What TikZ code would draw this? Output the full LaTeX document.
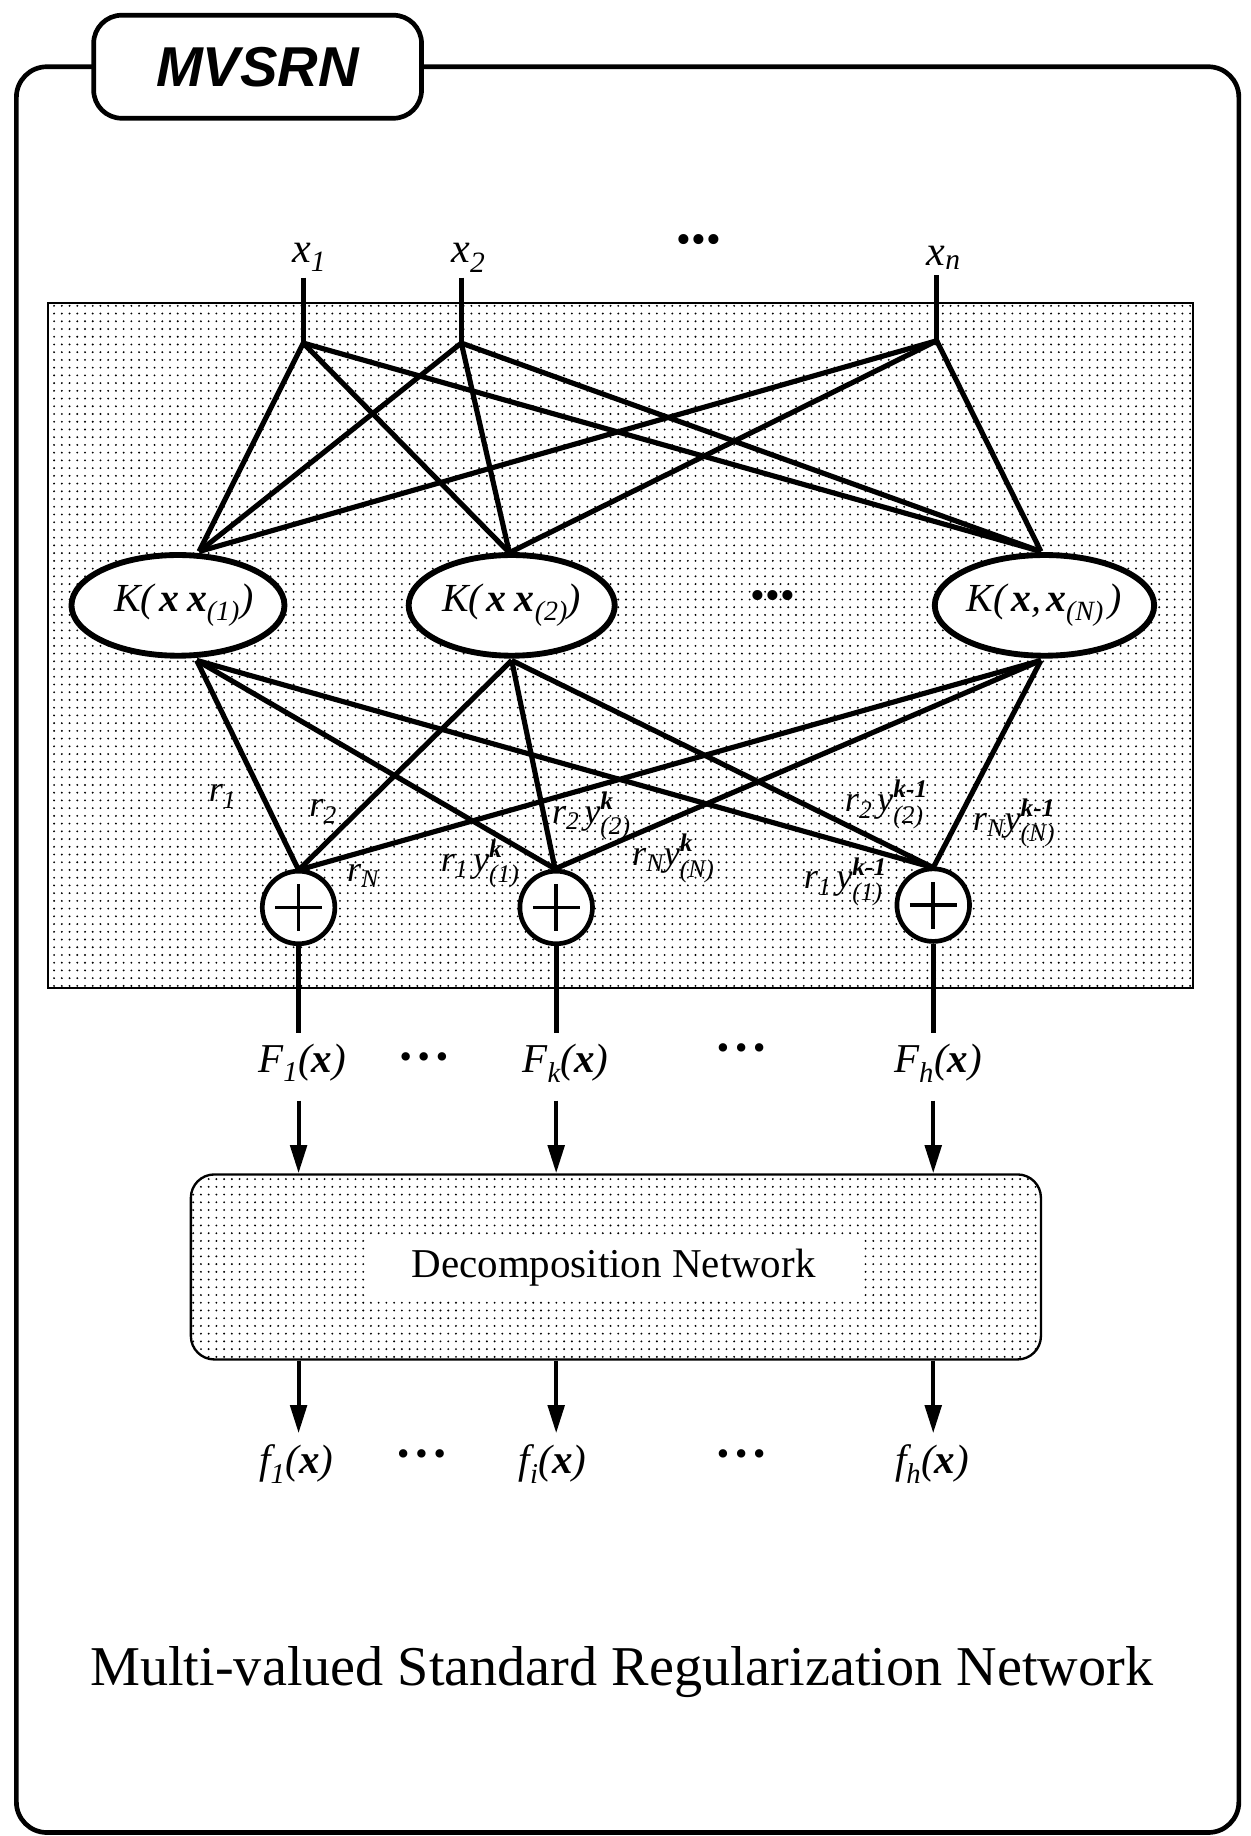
\documentclass[tikz,border=0pt]{standalone}
\usepackage{amsmath}
\usepackage{fontspec}
\setmainfont{Liberation Serif}
\newfontfamily\hsans{Liberation Sans}
\usetikzlibrary{arrows.meta,patterns,shapes.geometric}
\pgfdeclarepatternformonly{screendots}{\pgfpoint{-1.5pt}{-1.5pt}}{\pgfpoint{1.5pt}{1.5pt}}{\pgfpoint{6.6pt}{6.6pt}}{%
  \pgfpathcircle{\pgfpointorigin}{0.9pt}\pgfusepath{fill}}
\newcommand{\ti}[1]{\textit{#1}}
\newcommand{\tb}[1]{\textbf{\textit{#1}}}
\newcommand{\upk}{\raisebox{2.5pt}{$\scriptstyle\tb{k-1}$}}
\newcommand{\upkk}{\raisebox{2.5pt}{$\scriptstyle\tb{k}$}}
\begin{document}
\begin{tikzpicture}[x=1pt,y=-1pt,
  net/.style={line width=4.4pt},
  ell/.style={ellipse, draw, line width=5pt, fill=white, minimum height=86pt, inner sep=0pt},
  sum/.style={circle, draw, line width=4pt, fill=white, minimum size=62pt, inner sep=0pt},
  xlab/.style={font=\fontsize{36}{40}\selectfont, inner sep=0pt},
  klab/.style={font=\fontsize{34}{38}\selectfont, inner sep=0pt},
  rlab/.style={font=\fontsize{31}{34}\selectfont, inner sep=0pt},
  flab/.style={font=\fontsize{35}{38}\selectfont, inner sep=0pt},
  bigdots/.style={font=\fontsize{36}{40}\selectfont, inner sep=0pt},
  smalldots/.style={font=\fontsize{30}{34}\selectfont, inner sep=0pt},
  arr/.style={line width=3.5pt, -{Triangle[length=24pt,width=14pt]}},
  dotfill/.style={pattern=screendots, pattern color=black}
]
\useasboundingbox (0,0) rectangle (1068,1568);

% outer frame
\draw[line width=4pt, rounded corners=26pt] (14,57) rectangle (1058,1565);

% title tab
\node[draw, line width=4pt, fill=white, rounded corners=24pt, minimum width=280pt, minimum height=88pt,
      font=\hsans\bfseries\itshape\fontsize{48}{52}\selectfont] (title) at (220,57) {MVSRN};

% shaded network area
\node[draw, line width=2pt, dotfill, minimum width=978pt, minimum height=585pt, inner sep=0pt] (area) at (530,551.5) {};

% inputs
\node[xlab] (x1) at (264,220) {$\ti{x}_{\ti{1}}$};
\node[xlab] (x2) at (400,220) {$\ti{x}_{\ti{2}}$};
\node[bigdots] (xdots) at (597,208) {•••};
\node[xlab] (xn) at (806,220) {$\ti{x}_{\ti{n}}$};

\coordinate (s1) at (259,237);
\coordinate (s2) at (394,237);
\coordinate (sn) at (800,235);
\coordinate (j1) at (259,293);
\coordinate (j2) at (394,293);
\coordinate (jn) at (800,291);

% convergence points on the kernels
\coordinate (k1t) at (170,471);
\coordinate (k2t) at (435,472);
\coordinate (knt) at (889,471);
\coordinate (k1b) at (168,564);
\coordinate (k2b) at (437,564);
\coordinate (knb) at (889,564);
\coordinate (p1t) at (255,743);
\coordinate (p2t) at (474,742);
\coordinate (p3t) at (797,741);

% input stubs
\draw[net] (s1) -- (j1);
\draw[net] (s2) -- (j2);
\draw[net] (sn) -- (jn);

% input -> kernel connections
\foreach \j in {j1,j2,jn}{
  \foreach \k in {k1t,k2t,knt}{
    \draw[net] (\j) -- (\k);
  }
}
% kernel -> sum connections
\foreach \k in {k1b,k2b,knb}{
  \foreach \p in {p1t,p2t,p3t}{
    \draw[net] (\k) -- (\p);
  }
}

% kernel nodes
\node[ell, minimum width=152pt, klab] (K1) at (152,517) {\hspace*{10pt}$\ti{K}\ti{(}\,\tb{x}\;\tb{x}_{\ti{(1)}}\ti{)}$};
\node[ell, minimum width=176pt, klab] (K2) at (437,517) {$\ti{K}\ti{(}\,\tb{x}\;\tb{x}_{\ti{(2)}}\ti{)}$};
\node[bigdots] (kdots) at (660,512) {•••};
\node[ell, minimum width=181pt, klab] (KN) at (892,517) {$\ti{K}\ti{(}\,\tb{x}\ti{,}\,\tb{x}_{\ti{(N)}}\,\ti{)}$};

% summation nodes
\node[sum] (P1) at (255,775) {};
\node[sum] (P2) at (475,775) {};
\node[sum] (P3) at (797,773) {};
\foreach \p in {P1,P2,P3}{
  \draw[line width=3pt] ([xshift=-20pt]\p.center) -- ([xshift=20pt]\p.center);
  \draw[line width=3pt] ([yshift=-20pt]\p.center) -- ([yshift=20pt]\p.center);
}

% weight labels
\node[rlab] (l1) at (190,680) {$\ti{r}_{\ti{1}}$};
\node[rlab] (l2) at (276,693) {$\ti{r}_{\ti{2}}$};
\node[rlab] (l3) at (310,748) {$\ti{r}_{\ti{N}}$};
\node[rlab] (l4) at (410,738) {$\ti{r}_{\ti{1}}\,\ti{y}^{\upkk}_{\ti{(1)}}$};
\node[rlab] (l5) at (505,697) {$\ti{r}_{\ti{2}}\,\ti{y}^{\upkk}_{\ti{(2)}}$};
\node[rlab] (l6) at (575,733) {$\ti{r}_{\ti{N}}\ti{y}^{\upkk}_{\ti{(N)}}$};
\node[rlab] (l7) at (757,687) {$\ti{r}_{\ti{2}}\,\ti{y}^{\upk}_{\ti{(2)}}$};
\node[rlab] (l8) at (866,703) {$\ti{r}_{\ti{N}}\ti{y}^{\upk}_{\ti{(N)}}$};
\node[rlab] (l9) at (722,753) {$\ti{r}_{\ti{1}}\,\ti{y}^{\upk}_{\ti{(1)}}$};

% outputs F
\coordinate (c1) at (255,882);
\coordinate (c2) at (475,882);
\coordinate (c3) at (797,882);
\draw[net] (P1.south) -- (c1);
\draw[net] (P2.south) -- (c2);
\draw[net] (P3.south) -- (c3);

\node[flab] (F1) at (258,908) {$\ti{F}_{\ti{1}}\ti{(}\tb{x}\ti{)}$};
\node[smalldots] (fd1) at (362,906) {•\,•\,•};
\node[flab] (Fk) at (483,908) {$\ti{F}_{\ti{k}}\ti{(}\tb{x}\ti{)}$};
\node[smalldots] (fd2) at (633,898) {•\,•\,•};
\node[flab] (Fh) at (801,908) {$\ti{F}_{\ti{h}}\ti{(}\tb{x}\ti{)}$};

% decomposition network
\node[draw, line width=2pt, rounded corners=20pt, dotfill, minimum width=726pt, minimum height=158pt, inner sep=0pt] (D) at (526,1082) {};
\node[fill=white, minimum width=422pt, minimum height=53pt, inner sep=0pt, font=\fontsize{35}{40}\selectfont] (Dt) at (524,1083) {Decomposition Network};

\coordinate (a1) at (255,940);
\coordinate (a2) at (475,940);
\coordinate (a3) at (797,940);
\draw[arr] (a1) -- (a1 |- D.north);
\draw[arr] (a2) -- (a2 |- D.north);
\draw[arr] (a3) -- (a3 |- D.north);

\coordinate (b1) at (255,1224);
\coordinate (b2) at (475,1224);
\coordinate (b3) at (797,1224);
\draw[arr] (b1 |- D.south) -- (b1);
\draw[arr] (b2 |- D.south) -- (b2);
\draw[arr] (b3 |- D.south) -- (b3);

\node[flab] (f1) at (253,1250) {$\ti{f}_{\ti{1}}\ti{(}\tb{x}\ti{)}$};
\node[smalldots] (gd1) at (360,1245) {•\,•\,•};
\node[flab] (fi) at (472,1250) {$\ti{f}_{\ti{i}}\ti{(}\tb{x}\ti{)}$};
\node[smalldots] (gd2) at (633,1245) {•\,•\,•};
\node[flab] (fh) at (796,1250) {$\ti{f}_{\ti{h}}\ti{(}\tb{x}\ti{)}$};

% caption
\node[font=\fontsize{48}{52}\selectfont, inner sep=0pt] (cap) at (531,1428) {Multi-valued Standard Regularization Network};
\end{tikzpicture}
\end{document}
